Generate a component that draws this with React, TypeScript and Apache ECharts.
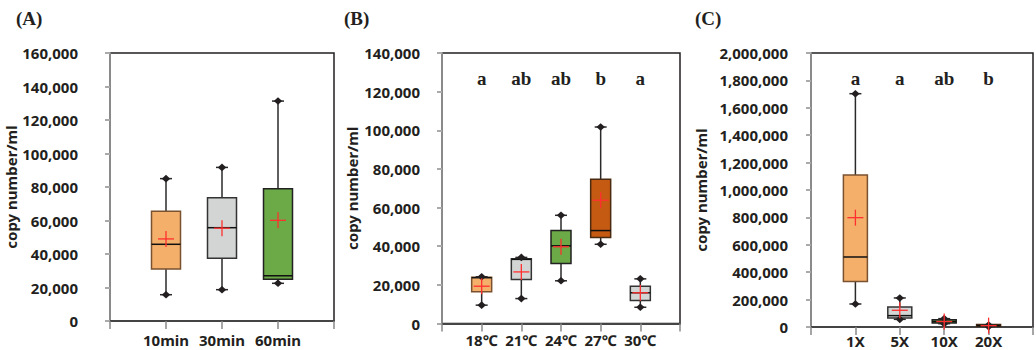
import React, { useEffect, useRef } from "react";
import * as echarts from "echarts";

// ---------- data ----------
const categoriesA = ["", "10min", "30min", "60min", ""];
const minA = [15700, 18700, 22500];
const q1A = [31000, 37400, 24900];
const medA = [45800, 55700, 27000];
const q3A = [65500, 73600, 79000];
const maxA = [85000, 91700, 131300];
const meanA = [49000, 55400, 60100];
const colorIdxA = [0, 1, 2];

const categoriesB = ["", "18℃", "21℃", "24℃", "27℃", "30℃", ""];
const minB = [9500, 12900, 22100, 41000, 8400];
const q1B = [16400, 22800, 31000, 44500, 11900];
const medB = [23700, 33200, 40200, 48100, 15900];
const q3B = [23900, 33500, 48100, 74600, 19300];
const maxB = [24200, 34200, 56000, 101700, 23100];
const meanB = [19300, 26700, 39700, 63800, 15900];
const colorIdxB = [0, 1, 2, 3, 1];
const lettersB = ["a", "ab", "ab", "b", "a"];

const categoriesC = ["", "1X", "5X", "10X", "20X", ""];
const minC = [168000, 56000, 24000, 3000];
const q1C = [333000, 66000, 29000, 5000];
const medC = [511000, 83000, 40000, 10000];
const q3C = [1109000, 146000, 53000, 18000];
const maxC = [1703000, 212000, 61000, 15000];
const meanC = [798000, 122000, 40000, 10000];
const colorIdxC = [0, 1, 2, 3];
const lettersC = ["a", "a", "ab", "b"];

const yTicksA = { max: 160000, interval: 20000 };
const yTicksB = { max: 140000, interval: 20000 };
const yTicksC = { max: 2000000, interval: 200000 };
const letterYB = 127000;
const letterYC = 1812000;

// ---------- styles ----------
const ink = "#231f20";
const fills = ["#F4AF6A", "#D3D4D4", "#6BAA46", "#C55A12"];
const strokes = ["#7a5230", "#333333", "#222222", "#4a2a10"];
const sans = "'Noto Sans', sans-serif";
const serif = "'Liberation Serif', 'Times New Roman', serif";

function rows(min: number[], q1: number[], med: number[], q3: number[], max: number[], mean: number[], cidx: number[]) {
  return min.map((_, i) => [i + 1, min[i], q1[i], med[i], q3[i], max[i], mean[i], cidx[i]]);
}

function boxSeries(idx: number, data: number[][], boxW: number) {
  return {
    type: "custom",
    xAxisIndex: idx,
    yAxisIndex: idx,
    data,
    encode: { x: 0, y: [1, 2, 3, 4, 5, 6] },
    renderItem: (_p: any, api: any) => {
      const x = api.value(0);
      const c = (v: number) => api.coord([x, v]);
      const pMin = c(api.value(1));
      const pQ1 = c(api.value(2));
      const pMed = c(api.value(3));
      const pQ3 = c(api.value(4));
      const pMax = c(api.value(5));
      const pMean = c(api.value(6));
      const ci = api.value(7);
      const cx = pMin[0];
      const hw = boxW / 2;
      const cap = 6;
      const dw = 4.2;
      const dh = 3.8;
      const lineStyle = { stroke: "#2a2a2a", lineWidth: 1.5 };
      const diamond = (y: number) => ({
        type: "polygon",
        shape: { points: [[cx - dw, y], [cx, y - dh], [cx + dw, y], [cx, y + dh]] },
        style: { fill: "#231f20" },
      });
      return {
        type: "group",
        children: [
          { type: "line", shape: { x1: cx, y1: pQ3[1], x2: cx, y2: pMax[1] }, style: lineStyle },
          { type: "line", shape: { x1: cx, y1: pQ1[1], x2: cx, y2: pMin[1] }, style: lineStyle },
          {
            type: "rect",
            shape: { x: cx - hw, y: pQ3[1], width: boxW, height: pQ1[1] - pQ3[1] },
            style: { fill: fills[ci], stroke: strokes[ci], lineWidth: 1.5 },
          },
          { type: "line", shape: { x1: cx - hw, y1: pMed[1], x2: cx + hw, y2: pMed[1] }, style: { stroke: "#111", lineWidth: 1.5 } },
          { type: "line", shape: { x1: cx - cap, y1: pMax[1], x2: cx + cap, y2: pMax[1] }, style: lineStyle },
          { type: "line", shape: { x1: cx - cap, y1: pMin[1], x2: cx + cap, y2: pMin[1] }, style: lineStyle },
          diamond(pMax[1]),
          diamond(pMin[1]),
          { type: "line", shape: { x1: cx - 8, y1: pMean[1], x2: cx + 8, y2: pMean[1] }, style: { stroke: "#ff3030", lineWidth: 1.3 } },
          { type: "line", shape: { x1: cx, y1: pMean[1] - 8, x2: cx, y2: pMean[1] + 8 }, style: { stroke: "#ff3030", lineWidth: 1.3 } },
        ],
      };
    },
    z: 5,
  };
}

function letterSeries(idx: number, letters: string[], y: number) {
  return {
    type: "custom",
    xAxisIndex: idx,
    yAxisIndex: idx,
    data: letters.map((_, i) => [i + 1, y]),
    encode: { x: 0, y: 1 },
    silent: true,
    renderItem: (p: any, api: any) => {
      const pt = api.coord([api.value(0), api.value(1)]);
      return {
        type: "text",
        x: pt[0],
        y: pt[1],
        style: {
          text: letters[p.dataIndex],
          fill: ink,
          fontFamily: serif,
          fontWeight: "bold",
          fontSize: 19,
          textAlign: "center",
          textVerticalAlign: "middle",
        },
      };
    },
    z: 6,
  };
}

const fmt = (v: number) => v.toLocaleString("en-US");

function xAxis(idx: number, data: string[], margin: number) {
  return {
    type: "category",
    gridIndex: idx,
    data,
    boundaryGap: false,
    axisLine: { show: true, lineStyle: { color: "#444", width: 2 } },
    axisTick: { show: true, length: 8, lineStyle: { color: "#888", width: 1.5 } },
    axisLabel: { show: true, interval: 0, margin, fontFamily: sans, fontWeight: "bold", fontSize: 15, color: ink },
    splitLine: { show: false },
  };
}

function yAxis(idx: number, t: { max: number; interval: number }, margin: number, nameGap: number) {
  return {
    type: "value",
    gridIndex: idx,
    min: 0,
    max: t.max,
    interval: t.interval,
    name: "copy number/ml",
    nameLocation: "middle",
    nameRotate: 90,
    nameGap,
    nameTextStyle: { fontFamily: sans, fontWeight: "bold", fontSize: 15, color: ink },
    axisLine: { show: true, lineStyle: { color: "#8a8a8a", width: 2 } },
    axisTick: { show: true, length: 5, lineStyle: { color: "#aaa", width: 2 } },
    axisLabel: { margin, fontFamily: sans, fontWeight: "bold", fontSize: 15, color: ink, formatter: fmt },
    splitLine: { show: false },
  };
}

export default function App() {
  const ref = useRef<HTMLDivElement>(null);
  useEffect(() => {
    if (!ref.current) return;
    const chart = echarts.init(ref.current, undefined, { renderer: "svg" });
    const gridStyle = { show: true, borderColor: ink, borderWidth: 1.5, backgroundColor: "transparent" };
    const titleStyle = { fontFamily: serif, fontWeight: "bold", fontSize: 19, color: ink };
    chart.setOption({
      animation: false,
      backgroundColor: "#ffffff",
      title: [
        { text: "(A)", left: 16, top: 9, padding: 0, textStyle: titleStyle },
        { text: "(B)", left: 344, top: 9, padding: 0, textStyle: titleStyle },
        { text: "(C)", left: 695, top: 9, padding: 0, textStyle: titleStyle },
      ],
      grid: [
        { left: 110, top: 53, width: 224, height: 268, ...gridStyle },
        { left: 442, top: 53, width: 238, height: 270.5, ...gridStyle },
        { left: 811, top: 53, width: 237.5, height: 274, ...gridStyle },
      ],
      xAxis: [xAxis(0, categoriesA, 11), xAxis(1, categoriesB, 9), xAxis(2, categoriesC, 6)],
      yAxis: [yAxis(0, yTicksA, 32, 88), yAxis(1, yTicksB, 22, 83), yAxis(2, yTicksC, 23, 103)],
      series: [
        boxSeries(0, rows(minA, q1A, medA, q3A, maxA, meanA, colorIdxA), 29),
        boxSeries(1, rows(minB, q1B, medB, q3B, maxB, meanB, colorIdxB), 20),
        boxSeries(2, rows(minC, q1C, medC, q3C, maxC, meanC, colorIdxC), 24),
        letterSeries(1, lettersB, letterYB),
        letterSeries(2, lettersC, letterYC),
      ],
    });
    return () => chart.dispose();
  }, []);
  return <div ref={ref} style={{ position: "absolute", left: 0, top: 0, width: 1036, height: 350 }} />;
}
